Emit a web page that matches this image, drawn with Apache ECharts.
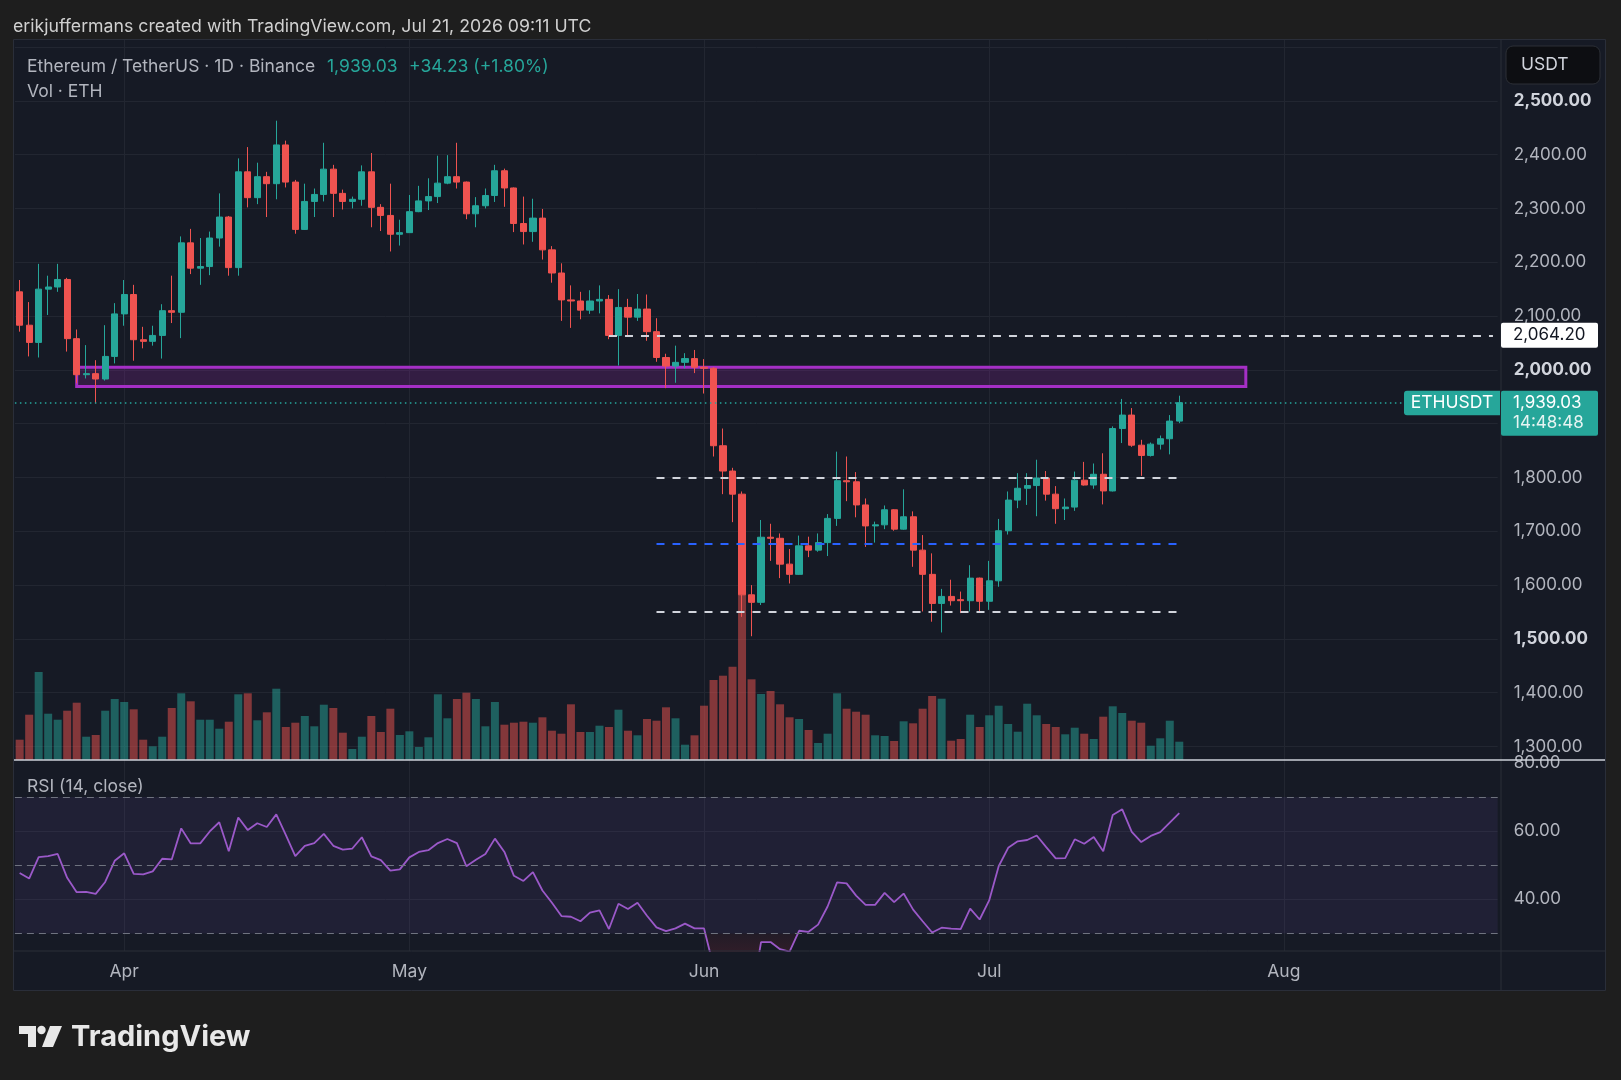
<!DOCTYPE html>
<html>
<head>
<meta charset="utf-8">
<title>ETHUSDT 1D</title>
<script src="https://cdn.jsdelivr.net/npm/echarts@6/dist/echarts.min.js"></script>
<style>
  html, body { margin: 0; padding: 0; background: #1e1e1e; }
  #chart { width: 1621px; height: 1080px; }
</style>
</head>
<body>
<div id="chart"></div>
<script>
// ---- data ---------------------------------------------------------------
const START_DATE = '2026-03-21';
const DAY_COUNT = 156; // the time axis runs on to Aug 23

// daily candles [open, high, low, close]
const marCandles = [
  [2145, 2167, 2071, 2083], [2083, 2126, 2025, 2051], [2051, 2197, 2023, 2150],
  [2150, 2175, 2102, 2154], [2154, 2197, 2145, 2168], [2168, 2171, 2034, 2058],
  [2058, 2075, 1975, 1991], [1991, 2046, 1984, 1993], [1993, 2018, 1938, 1983],
  [1983, 2083, 1980, 2025], [2025, 2124, 2012, 2104],
];
const aprCandles = [
  [2104, 2167, 2082, 2140], [2140, 2158, 2017, 2056], [2056, 2080, 2040, 2053],
  [2053, 2082, 2045, 2064], [2064, 2122, 2021, 2110], [2110, 2175, 2087, 2107],
  [2107, 2248, 2059, 2236], [2236, 2262, 2178, 2189], [2189, 2245, 2158, 2192],
  [2192, 2257, 2176, 2245], [2245, 2328, 2229, 2284], [2284, 2286, 2175, 2190],
  [2190, 2393, 2175, 2368], [2368, 2414, 2302, 2320], [2320, 2385, 2308, 2359],
  [2359, 2368, 2284, 2346], [2346, 2463, 2317, 2418], [2418, 2426, 2339, 2349],
  [2349, 2353, 2253, 2261], [2261, 2346, 2260, 2313], [2313, 2337, 2284, 2326],
  [2326, 2422, 2313, 2373], [2373, 2381, 2284, 2328], [2328, 2335, 2298, 2313],
  [2313, 2322, 2300, 2317], [2317, 2380, 2305, 2368], [2368, 2403, 2265, 2302],
  [2302, 2308, 2258, 2287], [2287, 2346, 2220, 2252], [2252, 2279, 2231, 2255],
];
const mayCandles = [
  [2255, 2325, 2255, 2294], [2294, 2342, 2293, 2314], [2314, 2356, 2297, 2322],
  [2322, 2398, 2310, 2347], [2347, 2399, 2345, 2359], [2359, 2422, 2337, 2349],
  [2349, 2350, 2280, 2290], [2290, 2321, 2265, 2305], [2305, 2337, 2300, 2324],
  [2324, 2381, 2312, 2370], [2370, 2374, 2303, 2338], [2338, 2339, 2256, 2272],
  [2272, 2322, 2233, 2257], [2257, 2318, 2238, 2282], [2282, 2299, 2205, 2223],
  [2223, 2230, 2162, 2180], [2180, 2198, 2091, 2130], [2130, 2157, 2078, 2128],
  [2128, 2145, 2094, 2111], [2111, 2148, 2104, 2128], [2128, 2157, 2105, 2131],
  [2131, 2139, 2057, 2064], [2064, 2150, 2008, 2116], [2116, 2132, 2062, 2098],
  [2098, 2141, 2091, 2113], [2113, 2140, 2054, 2071], [2071, 2096, 2015, 2023],
  [2023, 2030, 1966, 2007], [2007, 2045, 1976, 2014], [2014, 2031, 2003, 2021],
  [2021, 2037, 1994, 2005],
];
const junCandles = [
  [2005, 2020, 1956, 2003], [2003, 2005, 1839, 1859], [1859, 1891, 1769, 1812],
  [1812, 1818, 1717, 1769], [1769, 1774, 1541, 1582], [1582, 1600, 1505, 1568],
  [1568, 1721, 1563, 1689], [1689, 1714, 1645, 1687], [1687, 1696, 1613, 1639],
  [1639, 1667, 1603, 1620], [1620, 1692, 1619, 1673], [1673, 1690, 1652, 1665],
  [1665, 1696, 1662, 1679], [1679, 1732, 1654, 1724], [1724, 1848, 1710, 1794],
  [1794, 1839, 1756, 1792], [1792, 1810, 1726, 1749], [1749, 1761, 1671, 1710],
  [1710, 1718, 1679, 1712], [1712, 1748, 1704, 1740], [1740, 1741, 1701, 1704],
  [1704, 1778, 1703, 1727], [1727, 1737, 1634, 1665], [1665, 1693, 1551, 1620],
  [1620, 1659, 1532, 1566], [1566, 1593, 1512, 1579], [1579, 1610, 1562, 1571],
  [1573, 1588, 1548, 1571], [1571, 1637, 1551, 1613], [1613, 1614, 1551, 1570],
];
const julCandles = [
  [1570, 1645, 1554, 1608], [1608, 1723, 1597, 1701], [1701, 1774, 1694, 1758],
  [1758, 1808, 1743, 1780], [1780, 1808, 1749, 1785], [1785, 1833, 1728, 1799],
  [1799, 1812, 1757, 1769], [1769, 1784, 1714, 1742], [1742, 1761, 1721, 1745],
  [1745, 1811, 1738, 1795], [1795, 1829, 1785, 1786], [1786, 1826, 1779, 1806],
  [1806, 1845, 1750, 1775], [1775, 1895, 1774, 1891], [1891, 1946, 1864, 1916],
  [1916, 1929, 1857, 1860], [1860, 1870, 1803, 1841], [1841, 1865, 1839, 1862],
  [1862, 1878, 1852, 1872], [1872, 1916, 1843, 1904.8], [1904.8, 1952, 1901, 1939.03],
];

// daily volume (relative units, ETH)
const marVolume = [203, 453, 880, 463, 403, 493, 573, 233, 250, 493, 610];
const aprVolume = [580, 507, 203, 137, 233, 520, 667, 587, 403, 403, 313, 383, 657, 667, 397,
  477, 713, 330, 373, 440, 337, 553, 520, 273, 110, 233, 440, 280, 513, 250];
const mayVolume = [287, 130, 227, 657, 417, 610, 673, 610, 337, 580, 353, 373, 383, 373, 427,
  293, 263, 557, 280, 280, 343, 330, 503, 293, 247, 410, 393, 527, 417, 153, 247];
const junVolume = [543, 800, 843, 933, 1650, 807, 660, 690, 557, 427, 410, 300, 170, 263, 667,
  513, 483, 453, 247, 240, 190, 387, 367, 513, 640, 613, 193, 210, 453, 330];
const julVolume = [447, 543, 360, 283, 563, 447, 360, 330, 257, 323, 263, 210, 433, 537, 470,
  393, 373, 143, 217, 393, 183];

// RSI (14, close)
const marRsi = [47.7, 46.1, 52.4, 52.7, 53.3, 46.3, 42.1, 42.2, 41.6, 45.1, 51.3];
const aprRsi = [53.5, 47.5, 47.3, 48.2, 51.9, 51.7, 60.8, 56.4, 56.4, 59.9, 62.6, 54.1, 64.0, 60.3, 62.3,
  61.2, 64.9, 58.9, 52.7, 55.7, 56.5, 59.2, 55.7, 54.6, 54.9, 58.2, 52.6, 51.5, 48.4, 48.8];
const mayRsi = [52.3, 53.9, 54.4, 56.5, 57.7, 56.5, 49.7, 51.6, 53.3, 57.8, 53.9, 46.9, 45.4, 48.0, 42.6,
  39.0, 35.1, 34.9, 33.6, 36.1, 36.8, 31.3, 38.7, 37.2, 39.0, 35.2, 31.8, 30.7, 31.5, 32.9, 31.5];
const junRsi = [31.5, 20.3, 17.5, 15.5, 10.5, 11.0, 27.5, 27.5, 25.4, 24.7, 30.8, 30.5, 32.6, 37.9, 45.0,
  44.7, 41.1, 38.4, 38.4, 41.9, 39.2, 41.7, 37.0, 33.6, 30.3, 31.7, 31.4, 31.3, 37.3, 34.1];
const julRsi = [39.7, 49.7, 55.1, 57.0, 57.4, 58.7, 55.3, 52.0, 52.1, 57.6, 56.3, 58.3, 54.1, 64.7, 66.4,
  59.8, 56.8, 58.6, 59.7, 62.5, 65.3];

// drawn levels
const resistanceLevel = 2064.2;
const resistanceFrom = '2026-05-22';
const rangeLevels = [1800, 1676, 1550];
const rangeFrom = '2026-05-27';
const rangeTo = '2026-07-21';
const zoneBounds = [1969, 2005];
const zoneDates = ['2026-03-27', '2026-07-28'];
const countdown = '14:48:48';

// axis ticks
const priceTicks = [1300, 1400, 1500, 1600, 1700, 1800, 1900, 2000, 2100, 2200, 2300, 2400, 2500];
const priceGrid = [1300, 1400, 1500, 1600, 1700, 1800, 1900, 2000, 2100, 2200, 2300, 2400, 2500, 2600];
const rsiTicks = [40, 60, 80];
const rsiGrid = [40, 60];
const rsiLevels = [70, 50, 30];
const monthTickDates = ['2026-04-01', '2026-05-01', '2026-06-01', '2026-07-01', '2026-08-01'];
const monthTicks = ['Apr', 'May', 'Jun', 'Jul', 'Aug'];

// ---- build ----------------------------------------------------------------
const candles = [].concat(marCandles, aprCandles, mayCandles, junCandles, julCandles);
const volume = [].concat(marVolume, aprVolume, mayVolume, junVolume, julVolume);
const rsi = [].concat(marRsi, aprRsi, mayRsi, junRsi, julRsi);

const dates = [];
const t0 = Date.parse(START_DATE + 'T00:00:00Z');
for (let i = 0; i < DAY_COUNT; i++) {
  dates.push(new Date(t0 + i * 86400000).toISOString().slice(0, 10));
}

const UP = '#26a69a';
const DOWN = '#ef5350';
const PANEL = '#161a25';
const GRID = '#222631';
const SEP = '#2a2e39';
const TEXT = '#b2b5be';
const FONT = 'Inter, "Noto Sans", sans-serif';

const fmt = v => v.toLocaleString('en-US', { minimumFractionDigits: 2, maximumFractionDigits: 2 });
const isMonthStart = (i, v) => monthTickDates.indexOf(v) >= 0;

const last = candles[candles.length - 1];
const prevClose = candles[candles.length - 2][3];
const change = last[3] - prevClose;
const changePct = change / prevClose * 100;

const plotLeft = 14.9;
const plotRight = 123.3;

const volumeData = volume.map((v, i) => ({
  value: v,
  itemStyle: { color: candles[i][3] >= candles[i][0] ? 'rgba(38,166,154,0.5)' : 'rgba(239,83,80,0.5)' },
}));

const dashed = (color) => ({ color: color, width: 2, type: [8, 8] });

const chart = echarts.init(document.getElementById('chart'));

const option = {
  backgroundColor: '#1e1e1e',
  animation: false,
  textStyle: { fontFamily: FONT },
  grid: [
    { left: plotLeft, right: plotRight, top: 40, height: 720, containLabel: false, outerBoundsMode: 'none' },
    { left: plotLeft, right: plotRight, top: 40, height: 720, containLabel: false, outerBoundsMode: 'none' },
    { left: plotLeft, right: plotRight, top: 760, height: 191, containLabel: false, outerBoundsMode: 'none' },
  ],
  xAxis: [
    {
      type: 'category', gridIndex: 0, data: dates, boundaryGap: true,
      axisLine: { show: false }, axisTick: { show: false }, axisLabel: { show: false },
      splitLine: { show: true, interval: isMonthStart, alignWithLabel: true, lineStyle: { color: GRID } },
    },
    {
      type: 'category', gridIndex: 1, data: dates, boundaryGap: true, show: false,
    },
    {
      type: 'category', gridIndex: 2, data: dates, boundaryGap: true,
      axisLine: { show: false }, axisTick: { show: false },
      axisLabel: {
        interval: isMonthStart, color: TEXT, fontSize: 17.5, fontFamily: FONT, margin: 12,
        formatter: v => monthTicks[monthTickDates.indexOf(v)] || '',
      },
      splitLine: { show: true, interval: isMonthStart, alignWithLabel: true, lineStyle: { color: GRID } },
    },
  ],
  yAxis: [
    {
      type: 'value', gridIndex: 0, position: 'right', min: 1275, max: 2613,
      axisLine: { show: false },
      axisTick: { show: false, customValues: priceGrid },
      axisLabel: {
        customValues: priceTicks, margin: 16, color: TEXT, fontSize: 17, fontFamily: FONT,
        formatter: v => (v % 500 === 0 ? '{b|' + fmt(v) + '}' : fmt(v)),
        rich: { b: { fontWeight: 'bold', color: '#d1d4dc', fontSize: 17, fontFamily: FONT } },
      },
      splitLine: { show: true, lineStyle: { color: GRID } },
    },
    { type: 'value', gridIndex: 1, min: 0, max: 7200, show: false, splitLine: { show: false } },
    {
      type: 'value', gridIndex: 2, position: 'right', min: 24.87, max: 80.84,
      axisLine: { show: false },
      axisTick: { show: false, customValues: rsiGrid },
      axisLabel: {
        customValues: rsiTicks, margin: 16, color: TEXT, fontSize: 17, fontFamily: FONT,
        formatter: v => fmt(v),
      },
      splitLine: { show: true, lineStyle: { color: GRID } },
    },
  ],
  series: [
    {
      name: 'Vol', type: 'bar', xAxisIndex: 1, yAxisIndex: 1, barWidth: '84%',
      data: volumeData, silent: true,
    },
    {
      name: 'ETHUSDT', type: 'candlestick', xAxisIndex: 0, yAxisIndex: 0, barWidth: '70%',
      data: candles.map(c => [c[0], c[3], c[2], c[1]]),
      itemStyle: { color: UP, color0: DOWN, borderColor: UP, borderColor0: DOWN, borderWidth: 1 },
      silent: true,
      markArea: {
        silent: true,
        itemStyle: { color: 'rgba(156,39,176,0.22)', borderColor: '#a52fc6', borderWidth: 3 },
        data: [[
          { xAxis: zoneDates[0], yAxis: zoneBounds[0] },
          { xAxis: zoneDates[1], yAxis: zoneBounds[1] },
        ]],
      },
      markLine: {
        silent: true, symbol: ['none', 'none'], label: { show: false },
        emphasis: { disabled: true },
        data: [
          { yAxis: last[3], lineStyle: { color: UP, width: 1.5, type: [1.5, 3.5] } },
          [
            { coord: [resistanceFrom, resistanceLevel], lineStyle: dashed('#d1d4dc') },
            { coord: [dates[dates.length - 1], resistanceLevel], lineStyle: dashed('#d1d4dc') },
          ],
        ].concat(rangeLevels.map((p, i) => {
          const c = i === 1 ? '#2962ff' : '#d1d4dc';
          return [
            { coord: [rangeFrom, p], lineStyle: dashed(c) },
            { coord: [rangeTo, p], lineStyle: dashed(c) },
          ];
        })),
      },
    },
    {
      name: 'osBase', type: 'line', xAxisIndex: 2, yAxisIndex: 2, stack: 'os',
      data: rsi.map(v => Math.min(v, 30)), showSymbol: false, silent: true,
      lineStyle: { opacity: 0 },
    },
    {
      name: 'osFill', type: 'line', xAxisIndex: 2, yAxisIndex: 2, stack: 'os',
      data: rsi.map(v => 30 - Math.min(v, 30)), showSymbol: false, silent: true,
      lineStyle: { opacity: 0 },
      areaStyle: {
        color: new echarts.graphic.LinearGradient(0, 0, 0, 1, [
          { offset: 0, color: 'rgba(242,54,69,0.08)' },
          { offset: 1, color: 'rgba(242,54,69,0.4)' },
        ]),
      },
    },
    {
      name: 'RSI', type: 'line', xAxisIndex: 2, yAxisIndex: 2, data: rsi,
      showSymbol: false, silent: true,
      lineStyle: { color: '#9b59c9', width: 1.8 },
      markArea: {
        silent: true,
        itemStyle: { color: 'rgba(126,87,194,0.1)' },
        data: [[{ yAxis: rsiLevels[2] }, { yAxis: rsiLevels[0] }]],
      },
      markLine: {
        silent: true, symbol: ['none', 'none'], label: { show: false },
        lineStyle: { color: '#6f737f', width: 1, type: [7, 5] },
        data: rsiLevels.map(v => ({ yAxis: v })),
      },
    },
  ],
};

chart.setOption(option);

// overlays (price tags follow the data through the price scale)
const yOf = p => chart.convertToPixel({ gridIndex: 0 }, [dates[0], p])[1];
const yRes = yOf(resistanceLevel);
const yLast = yOf(last[3]);
const axisX = 1501;

const txt = (id, x, y, text, extra) => Object.assign({
  type: 'text', id: id, x: x, y: y, z: 50, silent: true,
  style: Object.assign({ text: text, fill: TEXT, font: '17.5px ' + FONT, align: 'left', verticalAlign: 'middle' }, extra || {}),
});

const graphics = [
  { type: 'rect', id: 'panel', z: -1, silent: true,
    shape: { x: 13.5, y: 39.5, width: 1592, height: 951 },
    style: { fill: PANEL, stroke: SEP, lineWidth: 1 } },
  { type: 'line', id: 'axisSep', z: 40, silent: true,
    shape: { x1: axisX, y1: 40, x2: axisX, y2: 990 }, style: { stroke: SEP, lineWidth: 1 } },
  { type: 'line', id: 'timeSep', z: 40, silent: true,
    shape: { x1: 14, y1: 951, x2: 1605, y2: 951 }, style: { stroke: SEP, lineWidth: 1 } },
  { type: 'line', id: 'paneSep', z: 60, silent: true,
    shape: { x1: 14, y1: 760, x2: 1605, y2: 760 }, style: { stroke: '#cdd0d8', lineWidth: 1.5 } },

  txt('header', 13, 27, 'erikjuffermans created with TradingView.com, Jul 21, 2026 09:11 UTC',
    { fill: '#d0d0d0', font: '17.7px ' + FONT }),
  txt('legend', 27, 67, 'Ethereum / TetherUS · 1D · Binance'),
  txt('legendPrice', 327, 67, fmt(last[3]), { fill: UP }),
  txt('legendChange', 409, 67, (change >= 0 ? '+' : '') + fmt(change) + ' (' + (change >= 0 ? '+' : '') + changePct.toFixed(2) + '%)', { fill: UP }),
  txt('legendVol', 27, 92, 'Vol · ETH'),
  txt('rsiTitle', 27, 787, 'RSI (14, close)'),

  { type: 'rect', id: 'usdtBox', z: 50, silent: true,
    shape: { x: 1506, y: 46, width: 94, height: 38, r: 7 },
    style: { fill: '#0d0e12', stroke: '#2c2f36', lineWidth: 1 } },
  txt('usdt', 1521, 65, 'USDT', { fill: '#d1d4dc' }),

  { type: 'rect', id: 'resTag', z: 50, silent: true,
    shape: { x: axisX, y: yRes - 12.5, width: 97, height: 25, r: 2 }, style: { fill: '#ffffff' } },
  txt('resTagText', 1513, yRes, fmt(resistanceLevel), { fill: '#131722', font: '17px ' + FONT }),

  { type: 'rect', id: 'lastTag', z: 50, silent: true,
    shape: { x: axisX, y: yLast - 12, width: 97, height: 45, r: 2 }, style: { fill: UP } },
  txt('lastTagPrice', 1513, yLast, fmt(last[3]), { fill: '#ffffff', font: '17px ' + FONT }),
  txt('lastTagTime', 1513, yLast + 20.5, countdown, { fill: '#e6f4f2', font: '17px ' + FONT }),
  { type: 'rect', id: 'symTag', z: 50, silent: true,
    shape: { x: 1404, y: yLast - 12, width: 96, height: 24.5, r: [3, 0, 0, 3] }, style: { fill: UP } },
  txt('symTagText', 1452, yLast, 'ETHUSDT', { fill: '#ffffff', align: 'center' }),

  // TradingView logo
  { type: 'polygon', id: 'logoA', z: 50, silent: true,
    shape: { points: [[19, 1026], [36, 1026], [36, 1047], [28, 1047], [28, 1034], [19, 1034]] },
    style: { fill: '#e8e8e8' } },
  { type: 'circle', id: 'logoB', z: 50, silent: true,
    shape: { cx: 41.5, cy: 1030, r: 4.2 }, style: { fill: '#e8e8e8' } },
  { type: 'polygon', id: 'logoC', z: 50, silent: true,
    shape: { points: [[50, 1026], [62, 1026], [53, 1047], [42, 1047]] },
    style: { fill: '#e8e8e8' } },
  txt('logoText', 71, 1037, 'TradingView', { fill: '#e8e8e8', font: 'bold 29px ' + FONT }),
];

chart.setOption({ graphic: graphics });
</script>
</body>
</html>
